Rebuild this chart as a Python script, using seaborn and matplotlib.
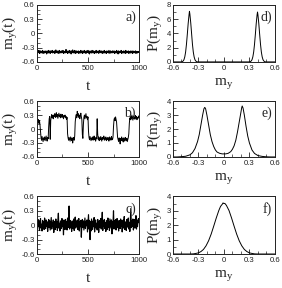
import numpy as np
import pandas as pd
import matplotlib
matplotlib.use('Agg')
import matplotlib.pyplot as plt
import seaborn as sns
from matplotlib.ticker import MultipleLocator

# time axis (step 5)
t = list(range(0, 1001, 5))

# a) trapped near -0.39
my_a = [-0.38,-0.41,-0.37,-0.40,-0.36,-0.42,-0.39,-0.37,-0.41,-0.38,
        -0.40,-0.36,-0.42,-0.38,-0.39,-0.41,-0.37,-0.40,-0.38,-0.43,
        -0.37,-0.39,-0.41,-0.36,-0.40,-0.38,-0.42,-0.37,-0.39,-0.40,
        -0.36,-0.41,-0.38,-0.40,-0.37,-0.42,-0.38,-0.35,-0.40,-0.39,
        -0.41,-0.37,-0.39,-0.42,-0.36,-0.40,-0.38,-0.41,-0.37,-0.39,
        -0.40,-0.36,-0.42,-0.38,-0.39,-0.41,-0.37,-0.34,-0.40,-0.38,
        -0.42,-0.37,-0.39,-0.41,-0.36,-0.40,-0.38,-0.43,-0.37,-0.39,
        -0.35,-0.41,-0.38,-0.40,-0.36,-0.42,-0.39,-0.37,-0.41,-0.38,
        -0.40,-0.37,-0.42,-0.38,-0.39,-0.41,-0.36,-0.40,-0.38,-0.42,
        -0.37,-0.39,-0.41,-0.36,-0.40,-0.38,-0.42,-0.37,-0.39,-0.40,
        -0.36,-0.41,-0.38,-0.43,-0.37,-0.40,-0.38,-0.41,-0.36,-0.39,
        -0.41,-0.37,-0.40,-0.42,-0.38,-0.39,-0.36,-0.41,-0.38,-0.40,
        -0.37,-0.42,-0.39,-0.36,-0.40,-0.38,-0.41,-0.37,-0.39,-0.42,
        -0.38,-0.40,-0.36,-0.41,-0.38,-0.39,-0.42,-0.37,-0.40,-0.38,
        -0.41,-0.36,-0.39,-0.42,-0.37,-0.40,-0.38,-0.41,-0.37,-0.39,
        -0.40,-0.37,-0.42,-0.38,-0.39,-0.41,-0.36,-0.40,-0.38,-0.43,
        -0.37,-0.39,-0.41,-0.38,-0.40,-0.36,-0.42,-0.38,-0.39,-0.41,
        -0.37,-0.40,-0.38,-0.42,-0.36,-0.39,-0.41,-0.38,-0.40,-0.37,
        -0.42,-0.38,-0.39,-0.41,-0.37,-0.40,-0.38,-0.42,-0.37,-0.39,
        -0.41,-0.38,-0.40,-0.37,-0.42,-0.38,-0.39,-0.41,-0.38,-0.40,
        -0.39]

# b) switching between two states
my_b = [0.17,0.22,0.14,0.20,0.12,0.18,0.08,-0.05,
        -0.18,-0.24,-0.16,-0.22,-0.27,-0.19,-0.23,-0.17,-0.25,-0.20,-0.15,-0.22,-0.26,-0.18,-0.21,
        0.05,0.22,0.27,
        -0.22,0.18,
        0.26,0.31,0.24,0.29,0.22,0.30,0.27,0.33,0.25,0.28,
        0.35,0.26,0.31,0.23,0.29,0.34,0.27,0.30,0.24,0.32,
        0.28,0.25,0.31,0.27,0.22,0.29,0.26,0.30,0.24,0.27,
        0.21,0.25,
        -0.10,-0.19,-0.24,-0.18,-0.22,-0.26,-0.17,-0.21,-0.25,-0.19,-0.30,-0.22,-0.18,-0.24,-0.15,
        0.15,0.26,0.31,0.24,0.38,0.28,0.33,0.25,0.30,0.22,0.29,0.34,0.26,0.20,
        -0.12,-0.20,
        0.10,0.25,0.30,0.22,0.28,0.33,0.24,0.27,0.20,0.26,
        -0.05,-0.18,-0.23,-0.16,-0.21,-0.25,-0.19,-0.22,-0.17,-0.24,-0.20,-0.15,-0.23,-0.19,-0.26,-0.18,-0.21,
        0.22,-0.10,
        -0.22,-0.17,-0.25,-0.19,-0.23,-0.16,-0.21,-0.26,-0.18,-0.22,
        -0.20,-0.15,-0.24,-0.19,-0.22,-0.17,-0.25,-0.20,-0.23,-0.18,
        -0.21,-0.26,-0.17,-0.22,-0.19,-0.24,-0.16,-0.21,-0.23,-0.18,
        0.05,0.20,0.24,0.18,0.26,0.21,0.15,0.00,
        -0.18,-0.23,-0.27,-0.19,-0.22,-0.32,-0.20,-0.25,-0.17,-0.24,
        -0.21,-0.28,-0.19,-0.23,-0.26,-0.18,-0.22,-0.25,-0.20,-0.27,
        -0.22,-0.18,-0.10,
        0.12,0.24,0.20,0.27,0.22,0.30,0.25,0.19,0.28,0.23,
        0.26,0.21,0.29,0.24,0.27,0.20,0.25,0.23,0.28,0.24]

# c) fluctuating around zero
my_c = [0.05,-0.08,0.12,-0.03,0.09,-0.11,0.06,0.14,-0.06,0.02,
        -0.12,0.10,-0.04,0.08,-0.09,0.15,0.01,-0.07,0.11,-0.02,
        0.07,-0.13,0.04,0.12,-0.05,0.09,-0.10,0.03,0.16,-0.08,
        0.06,-0.03,0.11,-0.15,0.08,0.02,-0.09,0.13,-0.04,0.07,
        -0.11,0.10,0.25,-0.06,0.04,-0.12,0.09,0.01,-0.07,0.14,
        -0.03,0.08,-0.20,0.11,0.05,-0.09,0.12,-0.02,0.07,-0.10,
        0.15,-0.05,0.03,0.40,-0.08,0.10,-0.04,0.06,-0.13,0.09,
        0.02,-0.07,0.13,-0.11,0.05,0.17,-0.06,0.08,-0.02,0.11,
        -0.09,0.04,0.14,-0.12,0.07,-0.03,0.10,-0.25,0.06,0.12,
        -0.05,0.09,-0.10,0.03,0.15,-0.07,0.08,-0.01,0.11,-0.14,
        0.05,0.22,-0.08,0.10,-0.30,0.07,-0.12,0.13,0.02,-0.09,
        0.09,-0.03,0.16,-0.14,0.06,0.11,-0.06,0.04,-0.10,0.12,
        0.08,-0.15,0.03,0.10,-0.05,0.14,-0.08,0.06,0.27,-0.11,
        0.09,-0.02,0.12,-0.07,0.05,-0.13,0.10,0.01,-0.09,0.15,
        -0.04,0.08,-0.11,0.13,0.04,-0.06,0.11,-0.18,0.07,0.02,
        0.30,-0.08,0.09,-0.03,0.12,-0.10,0.06,0.14,-0.05,0.08,
        -0.12,0.10,0.03,-0.07,0.13,-0.02,0.09,-0.14,0.05,0.11,
        -0.06,0.18,-0.09,0.07,0.02,-0.11,0.12,-0.04,0.08,0.15,
        -0.08,0.06,-0.13,0.10,0.35,-0.05,0.09,-0.02,0.13,-0.10,
        0.07,0.12,-0.06,0.04,0.20,-0.08,0.11,-0.03,0.09,0.14,
        0.05]

# d) two narrow peaks
m_d = [-0.60,-0.50,-0.49,-0.48,-0.47,-0.46,-0.45,-0.44,-0.43,-0.42,-0.41,-0.405,-0.40,-0.39,-0.38,
       -0.37,-0.36,-0.35,-0.34,-0.33,-0.32,-0.31,0.30,0.31,0.32,0.33,0.34,0.35,0.36,0.37,0.38,
       0.39,0.395,0.40,0.41,0.42,0.43,0.44,0.45,0.46,0.47,0.48,0.49,0.60]
p_d = [0.0,0.0,0.04,0.12,0.3,0.7,1.4,2.5,3.9,5.4,6.6,7.1,6.7,5.5,4.0,
       2.5,1.4,0.7,0.3,0.12,0.04,0.0,0.0,0.04,0.12,0.3,0.7,1.4,2.5,3.9,5.4,
       6.6,7.0,6.6,5.4,3.9,2.5,1.4,0.7,0.3,0.12,0.04,0.0,0.0]

# e) two broad peaks
m_e = [-0.60,-0.55,-0.50,-0.45,-0.40,-0.37,-0.34,-0.31,-0.29,-0.27,-0.25,-0.235,-0.225,-0.215,-0.20,
       -0.18,-0.16,-0.14,-0.12,-0.10,-0.08,-0.05,-0.02,0.00,0.02,0.05,0.08,0.10,0.12,0.14,
       0.16,0.18,0.20,0.21,0.215,0.225,0.24,0.26,0.28,0.30,0.33,0.36,0.40,0.45,0.50,0.55,0.60]
p_e = [0.0,0.0,0.02,0.05,0.15,0.3,0.6,1.1,1.6,2.3,3.0,3.45,3.55,3.45,3.0,
       2.3,1.6,1.1,0.75,0.5,0.35,0.26,0.22,0.22,0.22,0.26,0.38,0.55,0.8,1.2,
       1.8,2.5,3.2,3.55,3.65,3.5,3.0,2.2,1.5,1.0,0.5,0.25,0.1,0.04,0.01,0.0,0.0]

# f) single peak at zero
m_f = [-0.60,-0.40,-0.36,-0.33,-0.30,-0.27,-0.24,-0.21,-0.18,-0.15,-0.12,-0.09,-0.06,-0.04,-0.03,
       -0.02,-0.01,0.00,0.01,0.02,0.03,0.06,0.09,0.12,0.15,0.18,0.21,0.24,0.27,0.30,
       0.33,0.36,0.40,0.60]
p_f = [0.0,0.0,0.01,0.04,0.08,0.17,0.32,0.57,0.92,1.38,1.93,2.5,3.02,3.3,3.38,
       3.45,3.55,3.5,3.52,3.45,3.37,3.02,2.5,1.93,1.38,0.92,0.57,0.32,0.17,0.08,
       0.04,0.01,0.0,0.0]

panel_tags = ['a)', 'b)', 'c)', 'd)', 'e)', 'f)']
my_ticks = [-0.6, -0.3, 0, 0.3, 0.6]
my_ticklabels = ['-0.6', '-0.3', '0', '0.3', '0.6']
t_ticks = [0, 500, 1000]

sns.set_style('ticks')
plt.rcParams['axes.unicode_minus'] = False
plt.rcParams['font.family'] = ['Liberation Sans', 'DejaVu Sans']
plt.rcParams['xtick.direction'] = 'in'
plt.rcParams['ytick.direction'] = 'in'

fig = plt.figure(figsize=(2.82, 2.88), dpi=100)

rows = [(0.785, 0.198), (0.455, 0.194), (0.118, 0.200)]
ts_data = [my_a, my_b, my_c]
ts_width = [0.9, 0.7, 0.85]
pd_data = [(m_d, p_d, 8, 2), (m_e, p_e, 4, 1), (m_f, p_f, 4, 1)]

serif = {'family': 'Liberation Serif'}

def style_axis(ax):
    for s in ax.spines.values():
        s.set_linewidth(0.7)
        s.set_color('#222222')
    ax.tick_params(which='major', length=3.5, width=0.6, labelsize=5.6, colors='#222222')
    ax.tick_params(axis='x', which='major', pad=2.2)
    ax.tick_params(axis='y', which='major', pad=1.5)
    ax.tick_params(which='minor', length=2, width=0.5)

for i, (y0, h) in enumerate(rows):
    # time series panel
    ax = fig.add_axes([0.131, y0, 0.362, h])
    df = pd.DataFrame({'t': t, 'my': ts_data[i]})
    sns.lineplot(data=df, x='t', y='my', ax=ax, color='black', linewidth=ts_width[i], estimator=None)
    ax.set_xlim(0, 1000)
    ax.set_ylim(-0.6, 0.6)
    ax.set_xticks(t_ticks)
    ax.set_yticks(my_ticks)
    ax.set_yticklabels(my_ticklabels)
    ax.xaxis.set_minor_locator(MultipleLocator(250))
    ax.yaxis.set_minor_locator(MultipleLocator(0.1))
    ax.set_xlabel('t', fontdict=serif, fontsize=11, labelpad=6)
    ax.set_ylabel('m$_\\mathregular{y}$(t)', fontdict=serif, fontsize=11, labelpad=1)
    ax.text(0.97, 0.9, panel_tags[i], transform=ax.transAxes, ha='right', va='top',
            fontdict=serif, fontsize=10)
    style_axis(ax)

    # distribution panel
    m, p, ymax, ystep = pd_data[i]
    bx = fig.add_axes([0.613, y0, 0.362, h])
    dd = pd.DataFrame({'m': m, 'p': p})
    sns.lineplot(data=dd, x='m', y='p', ax=bx, color='black', linewidth=0.7, estimator=None, sort=False)
    bx.set_xlim(-0.6, 0.6)
    bx.set_ylim(0, ymax)
    bx.set_xticks(my_ticks)
    bx.set_xticklabels(my_ticklabels)
    bx.yaxis.set_major_locator(MultipleLocator(ystep))
    bx.yaxis.set_minor_locator(MultipleLocator(ystep / 2))
    bx.xaxis.set_minor_locator(MultipleLocator(0.1))
    bx.set_xlabel('m$_\\mathregular{y}$', fontdict=serif, fontsize=11, labelpad=3)
    bx.set_ylabel('P(m$_\\mathregular{y}$)', fontdict=serif, fontsize=11, labelpad=1)
    bx.text(0.97, 0.9, panel_tags[i + 3], transform=bx.transAxes, ha='right', va='top',
            fontdict=serif, fontsize=10)
    style_axis(bx)

fig.savefig('out.png', dpi=100)
